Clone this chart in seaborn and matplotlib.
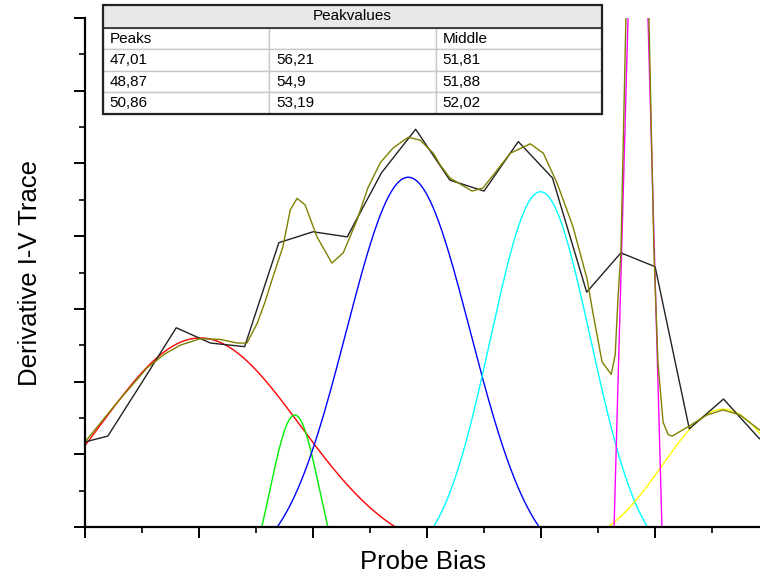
import numpy as np
import pandas as pd
import matplotlib
matplotlib.use("Agg")
import matplotlib.pyplot as plt
from matplotlib.patches import Rectangle
from matplotlib.ticker import MultipleLocator
import seaborn as sns

# measured trace (probe bias vs derivative)
bias = [44.8, 45.4, 46.0, 46.6, 47.2, 47.8, 48.4, 49.0, 49.6, 50.2, 50.8,
        51.4, 52.0, 52.6, 53.2, 53.8, 54.4, 55.0, 55.6, 56.2, 56.8, 57.4]
trace = [1.13, 1.25, 1.99, 2.74, 2.53, 2.48, 3.91, 4.06, 3.99, 4.87, 5.47,
         4.77, 4.62, 5.30, 4.80, 3.23, 3.77, 3.58, 1.35, 1.76, 1.24, 0.80]

# cumulative fit curve
fit_x = [45.00, 45.54, 46.09, 46.40, 46.67, 47.02, 47.37, 47.67, 47.84, 48.02,
         48.16, 48.28, 48.47, 48.60, 48.72, 48.86, 49.07, 49.33, 49.53, 49.77,
         49.96, 50.18, 50.40, 50.67, 50.88, 51.11, 51.23, 51.40, 51.79, 51.98,
         52.23, 52.46, 52.81, 53.04, 53.28, 53.56, 53.81, 53.91, 54.07, 54.23,
         54.30, 54.35, 54.40, 54.69, 54.98, 55.05, 55.14, 55.23, 55.30, 55.58,
         55.91, 56.19, 56.49, 56.84]
fit_y = [1.17, 1.69, 2.19, 2.38, 2.50, 2.59, 2.58, 2.53, 2.53, 2.80,
         3.10, 3.40, 3.85, 4.36, 4.52, 4.43, 3.99, 3.63, 3.77, 4.22,
         4.66, 5.01, 5.21, 5.36, 5.32, 5.14, 4.98, 4.80, 4.62, 4.66,
         4.91, 5.14, 5.27, 5.14, 4.73, 4.13, 3.40, 2.94, 2.27, 2.10,
         2.37, 3.16, 3.77, 14.4, 3.77, 2.26, 1.44, 1.27, 1.25, 1.38,
         1.54, 1.61, 1.54, 1.33]

# gaussian peak components: center, height, width, offset
peak_colors = ["#ff0000", "#00ee00", "#0000ff", "#00ffff", "#ffff00"]
peak_center = [47.02, 48.68, 50.67, 52.99, 56.19]
peak_height = [2.60, 1.54, 4.81, 4.61, 1.62]
peak_width = [1.754, 0.439, 1.088, 0.877, 1.053]
peak_offset = [-0.455, -1.106, -0.58, -0.518, -0.306]

# narrow peak (coarse sampling)
narrow_x = [54.28, 54.70, 55.12]
narrow_y = [0.0, 12.0, 0.0]

# table contents
table_title = "Peakvalues"
table_header = ["Peaks", "", "Middle"]
table_rows = [["47,01", "56,21", "51,81"],
              ["48,87", "54,9", "51,88"],
              ["50,86", "53,19", "52,02"]]

sns.set_theme(style="ticks")
plt.rcParams["font.family"] = ["Liberation Sans", "DejaVu Sans"]
plt.rcParams["text.color"] = "black"
plt.rcParams["axes.labelcolor"] = "black"

fig = plt.figure(figsize=(7.6, 5.81), dpi=100)
ax = fig.add_axes([85 / 760, 1 - 527 / 581, 675 / 760, 509 / 581])

xs = np.linspace(44.5, 57.0, 800)
for c, h, w, off, col in zip(peak_center, peak_height, peak_width,
                             peak_offset, peak_colors):
    amp = h - off
    ys = off + amp * np.exp(-((xs - c) ** 2) / (2 * w ** 2))
    sns.lineplot(x=xs, y=ys, color=col, lw=1.0, ax=ax)

sns.lineplot(x=narrow_x, y=narrow_y, color="#ff00ff", lw=1.0, ax=ax,
             sort=False, estimator=None)

df = pd.DataFrame({"bias": bias, "trace": trace})
sns.lineplot(data=df, x="bias", y="trace", color="#222222", lw=1.0, ax=ax,
             sort=False, estimator=None)
sns.lineplot(x=fit_x, y=fit_y, color="#808000", lw=1.0, ax=ax,
             sort=False, estimator=None)

ax.set_xlim(45, 56.84)
ax.set_ylim(0, 7)
ax.xaxis.set_major_locator(MultipleLocator(2, offset=1))
ax.xaxis.set_minor_locator(MultipleLocator(1))
ax.yaxis.set_major_locator(MultipleLocator(1))
ax.yaxis.set_minor_locator(MultipleLocator(0.5))
ax.tick_params(which="major", direction="out", length=8, width=1.4,
               color="black", labelbottom=False, labelleft=False)
ax.tick_params(which="minor", direction="out", length=4, width=1.2,
               color="black")
sns.despine(ax=ax)
for side in ["left", "bottom"]:
    ax.spines[side].set_linewidth(1.6)
    ax.spines[side].set_color("black")

ax.set_xlabel("Probe Bias", fontsize=18.5, color="black")
ax.set_ylabel("Derivative I-V Trace", fontsize=18.5, color="black")
ax.xaxis.set_label_coords(0.5, -0.045)
ax.yaxis.set_label_coords(-0.064, 0.5)

# table with peak values
tab_ax = fig.add_axes([103 / 760, 1 - 114 / 581, 499 / 760, 109 / 581])
tab_ax.set_xlim(0, 1)
tab_ax.set_ylim(0, 1)
tab_ax.axis("off")
tab_ax.add_patch(Rectangle((0, 0.79), 1, 0.21, facecolor="#e8e8e8",
                           edgecolor="none"))
tab_ax.text(0.5, 0.895, table_title, ha="center", va="center", fontsize=11,
            color="black")
tbl = tab_ax.table(cellText=[table_header] + table_rows, cellLoc="left",
                   bbox=[0, 0, 1, 0.79])
tbl.auto_set_font_size(False)
for (r, c), cell in tbl.get_celld().items():
    cell.set_edgecolor("#c8c8c8")
    cell.set_linewidth(1.0)
    cell.get_text().set_fontsize(11)
    cell.get_text().set_color("black")
    cell.PAD = 0.04
tab_ax.plot([0, 1], [0.79, 0.79], color="#222222", lw=1.2)
tab_ax.add_patch(Rectangle((0, 0), 1, 1, facecolor="none",
                           edgecolor="#222222", lw=1.6, clip_on=False))

fig.savefig("out.png", dpi=100)
